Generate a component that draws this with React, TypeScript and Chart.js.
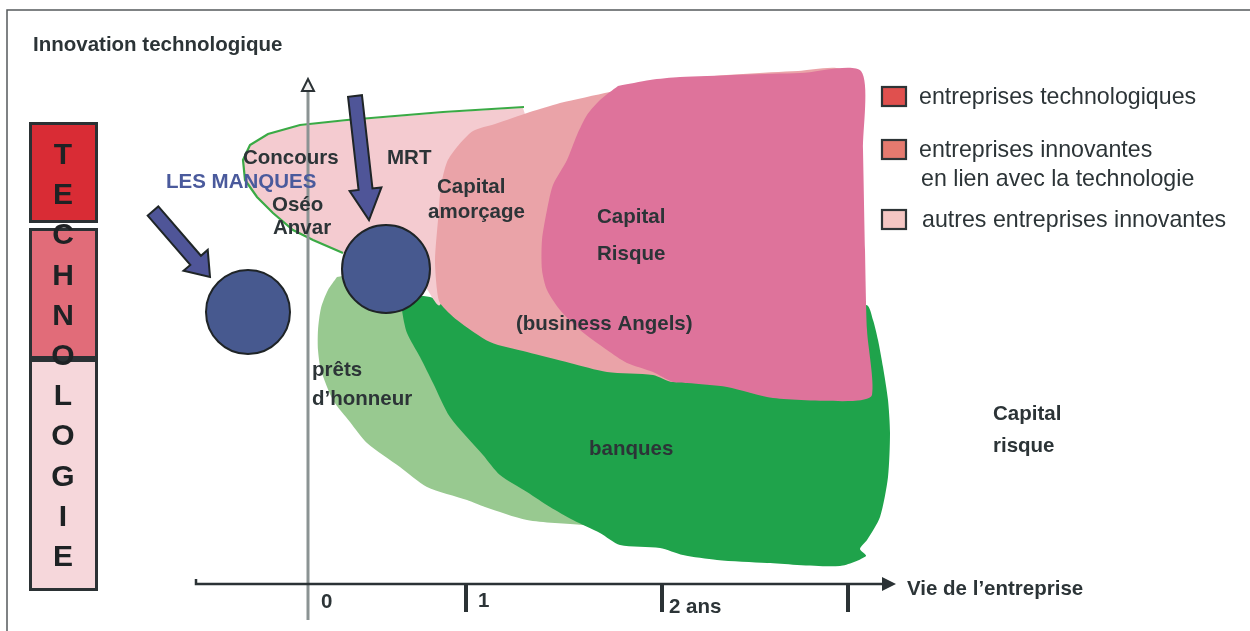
import React, { useEffect, useRef } from "react";
import { Chart, registerables } from "chart.js";

Chart.register(...registerables);

type P = [number, number];

const W = 1250;
const H = 631;
const FONT = '"Liberation Sans", Arial, Helvetica, sans-serif';
const INK = "#2c3437";

// ---- regions of the diagram (diagram units, y grows downward) ----
const pretsHonneur: P[] = [
  [337, 277], [328, 290], [321, 308], [318, 330], [318, 350], [321, 370], [333, 400],
  [350, 422], [367, 443], [400, 467], [427, 487], [467, 500], [485, 507], [527, 520],
  [583, 525], [612, 527], [560, 470], [470, 380], [430, 320], [405, 290], [370, 272], [337, 277],
];

const banques: P[] = [
  [402, 294], [430, 297], [445, 302], [520, 322], [640, 342], [760, 342], [866, 305],
  [873, 320], [878, 340], [883, 367], [888, 400], [890, 433], [888, 477], [880, 517],
  [867, 540], [860, 549], [866, 556], [840, 566], [767, 563], [717, 560], [683, 555],
  [660, 548], [620, 545], [600, 533], [573, 520], [550, 507], [527, 492], [500, 475],
  [483, 455], [450, 417], [433, 383], [420, 357], [407, 333], [402, 310], [402, 294],
];

const autresInnovantes: P[] = [
  [523, 108], [443, 113], [347, 121], [300, 126], [270, 134], [251, 145], [244, 160],
  [246, 180], [258, 197], [274, 213], [294, 229], [314, 240], [340, 252], [380, 262],
  [420, 280], [440, 305], [470, 220], [500, 140], [525, 118], [523, 108],
];

const contourConcours: P[] = [
  [524, 107], [443, 112], [347, 120], [300, 125], [268, 134], [250, 145], [243, 160],
  [245, 180], [257, 197], [273, 213], [293, 230], [313, 240], [343, 253],
];

const capitalAmorcage: P[] = [
  [560, 103], [610, 92], [680, 79], [798, 71], [845, 72], [848, 200], [740, 340],
  [690, 372], [673, 382], [653, 375], [607, 372], [570, 363], [527, 352], [490, 342],
  [457, 320], [440, 303], [437, 290], [435, 260], [438, 220], [441, 186], [447, 162],
  [457, 147], [473, 131], [495, 124], [530, 112], [560, 103],
];

const capitalRisque: P[] = [
  [618, 86], [650, 80], [680, 77], [800, 73], [861, 71], [863, 150], [865, 250],
  [867, 330], [872, 395], [853, 401], [773, 398], [727, 387], [687, 383], [673, 382],
  [653, 372], [627, 363], [607, 350], [580, 330], [560, 310], [547, 290], [542, 270],
  [542, 240], [547, 210], [553, 185], [567, 160], [577, 135], [587, 115], [600, 100], [618, 86],
];

// "les manques" circles
const manques: P[] = [[248, 312], [386, 269]];
const manquesRadius = [42, 44];

// big arrows pointing at the gaps
const arrowTails: P[] = [[153, 211], [355, 96]];
const arrowTips: P[] = [[210, 277], [369, 220]];

// axes
const yAxisLine: P[] = [[308, 620], [308, 91]];
const xAxisLine: P[] = [[196, 579], [196, 584], [883, 584]];
const tickX = [466, 662, 848];
const tickLabels = ["0", "1", "2 ans"];
const tickLabelPos: P[] = [[321, 608], [478, 607], [669, 613]];

// legend
const legendLabels: string[][] = [
  ["entreprises technologiques"],
  ["entreprises innovantes", "en lien avec la technologie"],
  ["autres entreprises innovantes"],
];
const legendColors = ["#e0504e", "#e57a6f", "#f4c6c3"];
const legendTop = [87, 140, 210];

// TECHNOLOGIE bar
const techLetters = ["T", "E", "C", "H", "N", "O", "L", "O", "G", "I", "E"];
const techBands: P[] = [[122, 223], [228, 359], [359, 591]];
const techColors = ["#d92c35", "#e16c79", "#f6d7db"];

// labels
const labelTexts = [
  "Concours", "MRT", "Oséo", "Anvar", "Capital", "amorçage", "Capital", "Risque",
  "(business Angels)", "prêts", "d’honneur", "banques", "Capital", "risque",
];
const labelPos: P[] = [
  [243, 164], [387, 164], [272, 211], [273, 234], [437, 193], [428, 218], [597, 223],
  [597, 260], [516, 330], [312, 376], [312, 405], [589, 455], [993, 420], [993, 452],
];

const pts = (a: P[]) => a.map(([x, y]) => ({ x, y }));

function region(label: string, data: P[], color: string, order: number) {
  return {
    type: "scatter" as const,
    label,
    data: pts(data),
    showLine: true,
    fill: "shape",
    backgroundColor: color,
    borderColor: "rgba(0,0,0,0)",
    borderWidth: 1,
    pointRadius: 0,
    tension: 0.25,
    order,
  };
}

function lineSet(label: string, data: P[], color: string, width: number, order: number) {
  return {
    type: "scatter" as const,
    label,
    data: pts(data),
    showLine: true,
    fill: false,
    borderColor: color,
    backgroundColor: color,
    borderWidth: width,
    pointRadius: 0,
    tension: 0,
    order,
  };
}

const diagramPlugin = {
  id: "diagram",
  beforeDraw(chart: any) {
    const { ctx } = chart;
    ctx.save();
    ctx.fillStyle = "#ffffff";
    ctx.fillRect(0, 0, chart.width, chart.height);
    const X = (v: number) => chart.scales.x.getPixelForValue(v);
    const Y = (v: number) => chart.scales.y.getPixelForValue(v);
    // frame
    ctx.strokeStyle = "#555a5c";
    ctx.lineWidth = 1.5;
    ctx.beginPath();
    ctx.moveTo(X(7), Y(631));
    ctx.lineTo(X(7), Y(10));
    ctx.lineTo(X(1250), Y(10));
    ctx.stroke();
    ctx.restore();
  },
  afterDatasetsDraw(chart: any) {
    const { ctx } = chart;
    const X = (v: number) => chart.scales.x.getPixelForValue(v);
    const Y = (v: number) => chart.scales.y.getPixelForValue(v);
    ctx.save();

    // big arrows
    arrowTails.forEach((t, i) => {
      const tip = arrowTips[i];
      const tx = X(t[0]), ty = Y(t[1]), px = X(tip[0]), py = Y(tip[1]);
      const dx = px - tx, dy = py - ty;
      const len = Math.hypot(dx, dy);
      const ux = dx / len, uy = dy / len;
      const nx = -uy, ny = ux;
      const w = 7, h = 16, L = i === 0 ? 22 : 31;
      const bx = px - ux * L, by = py - uy * L;
      ctx.beginPath();
      ctx.moveTo(tx + nx * w, ty + ny * w);
      ctx.lineTo(bx + nx * w, by + ny * w);
      ctx.lineTo(bx + nx * h, by + ny * h);
      ctx.lineTo(px, py);
      ctx.lineTo(bx - nx * h, by - ny * h);
      ctx.lineTo(bx - nx * w, by - ny * w);
      ctx.lineTo(tx - nx * w, ty - ny * w);
      ctx.closePath();
      ctx.fillStyle = "#4f5598";
      ctx.fill();
      ctx.strokeStyle = "#1f2527";
      ctx.lineWidth = 2;
      ctx.lineJoin = "miter";
      ctx.stroke();
    });

    // y axis arrowhead (open)
    {
      const top = yAxisLine[yAxisLine.length - 1];
      const x = X(top[0]), y = Y(top[1]);
      ctx.beginPath();
      ctx.moveTo(x, y - 12);
      ctx.lineTo(x - 6, y);
      ctx.lineTo(x + 6, y);
      ctx.closePath();
      ctx.fillStyle = "#f0f0f0";
      ctx.fill();
      ctx.strokeStyle = "#2b3235";
      ctx.lineWidth = 2;
      ctx.stroke();
    }
    // x axis arrowhead (filled)
    {
      const end = xAxisLine[xAxisLine.length - 1];
      const x = X(end[0]), y = Y(end[1]);
      ctx.beginPath();
      ctx.moveTo(x + 13, y);
      ctx.lineTo(x - 1, y - 7);
      ctx.lineTo(x - 1, y + 7);
      ctx.closePath();
      ctx.fillStyle = "#2b3235";
      ctx.fill();
    }
    // ticks
    ctx.strokeStyle = "#2b3235";
    ctx.lineWidth = 4;
    tickX.forEach((tx) => {
      ctx.beginPath();
      ctx.moveTo(X(tx), Y(584));
      ctx.lineTo(X(tx), Y(612));
      ctx.stroke();
    });

    // TECHNOLOGIE bar
    techBands.forEach((b, i) => {
      const x0 = X(30.5), x1 = X(96.5);
      const y0 = Y(b[0] + 1.5), y1 = Y(b[1] - 1.5);
      ctx.fillStyle = techColors[i];
      ctx.fillRect(x0, y0, x1 - x0, y1 - y0);
      ctx.strokeStyle = "#2b3134";
      ctx.lineWidth = 3;
      ctx.strokeRect(x0, y0, x1 - x0, y1 - y0);
    });
    ctx.fillStyle = "#1e2224";
    ctx.font = `bold 30px ${FONT}`;
    ctx.textAlign = "center";
    ctx.textBaseline = "alphabetic";
    techLetters.forEach((l, i) => {
      ctx.fillText(l, X(63), Y(164 + 40.2 * i));
    });

    // legend
    ctx.textAlign = "left";
    legendLabels.forEach((lines, i) => {
      const top = legendTop[i];
      ctx.fillStyle = legendColors[i];
      ctx.fillRect(X(882), Y(top), X(906) - X(882), Y(top + 19) - Y(top));
      ctx.strokeStyle = "#2d3436";
      ctx.lineWidth = 2.2;
      ctx.strokeRect(X(882), Y(top), X(906) - X(882), Y(top + 19) - Y(top));
      ctx.fillStyle = INK;
      ctx.font = `23.2px ${FONT}`;
      lines.forEach((s, j) => {
        ctx.fillText(s, X(919 + (i === 2 ? 3 : 0) + (j === 1 ? 2 : 0)), Y(top + 17 + j * 29));
      });
    });

    // labels
    ctx.font = `bold 20.5px ${FONT}`;
    ctx.fillStyle = INK;
    labelTexts.forEach((s, i) => {
      ctx.fillText(s, X(labelPos[i][0]), Y(labelPos[i][1]));
    });
    ctx.fillStyle = "#4a5a9c";
    ctx.fillText("LES MANQUES", X(166), Y(188));
    ctx.fillStyle = INK;
    ctx.fillText("Innovation technologique", X(33), Y(51));
    ctx.fillText("Vie de l’entreprise", X(907), Y(595));
    tickLabels.forEach((s, i) => {
      ctx.fillText(s, X(tickLabelPos[i][0]), Y(tickLabelPos[i][1]));
    });

    ctx.restore();
  },
};

export default function App() {
  const ref = useRef<HTMLCanvasElement | null>(null);

  useEffect(() => {
    if (!ref.current) return;
    const chart = new Chart(ref.current, {
      type: "scatter",
      data: {
        datasets: [
          region("prêts d'honneur", pretsHonneur, "#98c990", 20),
          region("banques", banques, "#1fa34b", 19),
          region("autres entreprises innovantes", autresInnovantes, "#f4cbd0", 18),
          lineSet("contour", contourConcours, "#3aaa45", 2.2, 17),
          region("capital amorçage", capitalAmorcage, "#eaa3a8", 16),
          region("capital risque", capitalRisque, "#de739b", 15),
          lineSet("axe vertical", yAxisLine, "#8b9393", 3, 14),
          {
            type: "scatter" as const,
            label: "les manques",
            data: pts(manques),
            showLine: false,
            pointRadius: manquesRadius,
            pointStyle: "circle",
            backgroundColor: "#47598f",
            borderColor: "#1f2427",
            borderWidth: 2,
            order: 13,
          },
          lineSet("axe horizontal", xAxisLine, "#2b3235", 2.5, 12),
        ] as any,
      },
      options: {
        animation: false,
        responsive: false,
        devicePixelRatio: 1,
        events: [],
        layout: { padding: 0, autoPadding: false },
        plugins: {
          legend: { display: false },
          tooltip: { enabled: false },
        },
        scales: {
          x: { type: "linear", min: 0, max: W, display: false },
          y: { type: "linear", min: 0, max: H, reverse: true, display: false },
        },
      },
      plugins: [diagramPlugin],
    });
    return () => chart.destroy();
  }, []);

  return (
    <div style={{ position: "absolute", left: 0, top: 0, width: W, height: H, background: "#fff" }}>
      <canvas ref={ref} width={W} height={H} style={{ width: W, height: H, display: "block" }} />
    </div>
  );
}
